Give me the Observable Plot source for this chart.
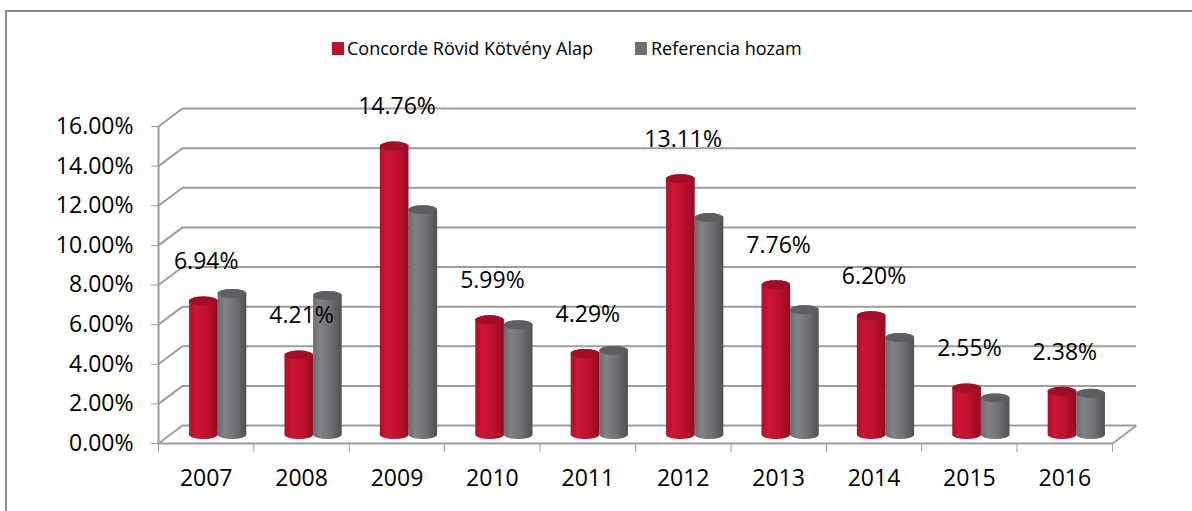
<!DOCTYPE html>
<html>
<head>
<meta charset="utf-8">
<script src="https://cdn.jsdelivr.net/npm/d3@7"></script>
<script src="https://cdn.jsdelivr.net/npm/@observablehq/plot@0.6"></script>
<style>
  html, body { margin: 0; padding: 0; background: #fff; }
  #wrap { position: relative; width: 1192px; height: 511px; overflow: hidden; font-family: "Open Sans", sans-serif; }
  #frame { position: absolute; left: 5px; top: 10px; width: 1250px; height: 600px; border: 2px solid #8e8e8e; box-sizing: border-box; pointer-events: none; }
  #legend { position: relative; height: 80px; }
  .sw { position: absolute; top: 42px; width: 12px; height: 13px; }
  .lt { position: absolute; top: 38px; font-size: 18px; line-height: 20px; color: #000; white-space: nowrap; }
  #chart svg text { fill: #000; }
</style>
</head>
<body>
<div id="wrap">
  <div id="frame"></div>
  <div id="legend"></div>
  <div id="chart"></div>
</div>
<script>
// ---- data ----
const years = ["2007", "2008", "2009", "2010", "2011", "2012", "2013", "2014", "2015", "2016"];
const seriesNames = ["Concorde Rövid Kötvény Alap", "Referencia hozam"];
const fundValues = [6.94, 4.21, 14.76, 5.99, 4.29, 13.11, 7.76, 6.20, 2.55, 2.38];
const benchValues = [7.32, 7.22, 11.55, 5.74, 4.44, 11.15, 6.50, 5.10, 2.05, 2.28];
const yTicks = [0, 2, 4, 6, 8, 10, 12, 14, 16];

// ---- layout ----
const W = 1192, H = 431;
const mL = 158, mR = 80, mT = 46, mB = 68;
const DX = 24, DY = 18;               // 3D depth offset in pixels
const pxX = (W - mL - mR) / years.length;
const pxY = (H - mT - mB) / 16;
const DXu = DX / pxX, DYu = DY / pxY; // depth in data units
const bw = 0.3;                        // cylinder width (category units)
const grid = "#9e9e9e";
const red = "#C0102E", grey = "#6F7073";

// legend
const legend = document.getElementById("legend");
legend.innerHTML = `
  <div class="sw" style="left:332px;background:${red}"></div>
  <div class="lt" style="left:347px">${seriesNames[0]}</div>
  <div class="sw" style="left:635px;background:${grey}"></div>
  <div class="lt" style="left:651px">${seriesNames[1]}</div>`;

const idx = d3.range(years.length);

function cylinder(values, off, bodyFill, topFill) {
  return [
    Plot.rect(idx, {
      x1: i => i + off, x2: i => i + off + bw,
      y1: 0, y2: i => values[i],
      dx: DX / 2, dy: -DY / 2,
      insetBottom: -5,
      rx: 20, ry: 4.5,
      fill: bodyFill
    }),
    Plot.rect(idx, {
      x1: i => i + off, x2: i => i + off + bw,
      y1: i => values[i], y2: i => values[i],
      dx: DX / 2, dy: -DY / 2,
      insetBottom: -9,
      rx: 20, ry: 4.5,
      fill: topFill
    })
  ];
}

const svg = Plot.plot({
  width: W, height: H,
  marginLeft: mL, marginRight: mR, marginTop: mT, marginBottom: mB,
  style: { color: grid, fontSize: "23px", fontFamily: "Open Sans", background: "transparent", overflow: "visible" },
  x: { domain: [0, years.length], ticks: d3.range(years.length + 1), tickSize: 9, tickFormat: () => "", label: null },
  y: { domain: [0, 16], ticks: yTicks, tickSize: 7, tickPadding: 18, tickFormat: d => d.toFixed(2) + "%", label: null },
  marks: [
    // back wall gridlines
    Plot.ruleY(yTicks, { y: d => d, x1: 0, x2: years.length, dx: DX, dy: -DY, stroke: grid, strokeWidth: 2 }),
    // side wall diagonals
    Plot.link(yTicks, { x1: 0, y1: d => d, x2: DXu, y2: d => d + DYu, stroke: grid, strokeWidth: 2 }),
    // floor right edge
    Plot.link([0], { x1: years.length, y1: 0, x2: years.length + DXu, y2: DYu, stroke: grid, strokeWidth: 2 }),
    // floor front edge
    Plot.ruleY([0], { x1: 0, x2: years.length, stroke: grid, strokeWidth: 2 }),
    // front vertical axis line
    Plot.ruleX([0], { y1: 0, y2: 16, stroke: grid, strokeWidth: 2 }),
    // cylinders
    ...cylinder(benchValues, 0.5, "url(#gGrey)", "#5d5e61"),
    ...cylinder(fundValues, 0.5 - bw, "url(#gRed)", "#a20d29"),
    // data labels
    Plot.text(idx, { x: i => i + 0.5, y: i => fundValues[i], text: i => fundValues[i].toFixed(2) + "%", dy: -44, fontSize: 23, fill: "#000" }),
    // year labels
    Plot.text(idx, { x: i => i + 0.5, y: 0, text: i => years[i], dy: 35, fontSize: 23, fill: "#000" })
  ]
});

const defs = document.createElementNS("http://www.w3.org/2000/svg", "defs");
defs.innerHTML = `
  <linearGradient id="gRed" x1="0" x2="1" y1="0" y2="0">
    <stop offset="0" stop-color="#b10f2b"/>
    <stop offset="0.25" stop-color="#cc1535"/>
    <stop offset="0.6" stop-color="#c0112f"/>
    <stop offset="1" stop-color="#920b23"/>
  </linearGradient>
  <linearGradient id="gGrey" x1="0" x2="1" y1="0" y2="0">
    <stop offset="0" stop-color="#6c6d70"/>
    <stop offset="0.25" stop-color="#818285"/>
    <stop offset="0.6" stop-color="#707174"/>
    <stop offset="1" stop-color="#4f5053"/>
  </linearGradient>`;
svg.insertBefore(defs, svg.firstChild);
document.getElementById("chart").appendChild(svg);
</script>
</body>
</html>
